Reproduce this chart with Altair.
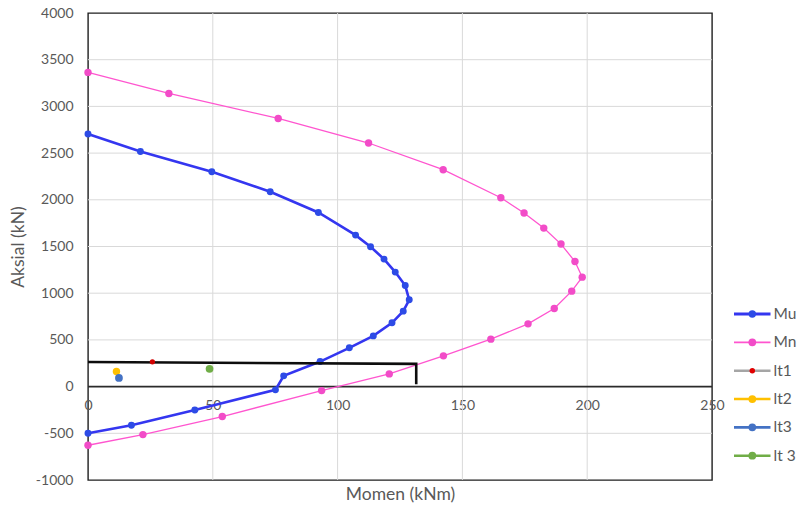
import altair as alt
import pandas as pd

# Interaction diagram: ultimate (Mu) and nominal (Mn) capacity curves
mu_moment = [0, 21.0, 49.6, 73.0, 92.3, 107.2, 113.2, 118.6, 123.1, 127.1, 128.7,
             126.3, 121.8, 114.3, 104.7, 93.0, 78.4, 75.1, 42.8, 17.4, 0]
mu_axial = [2704, 2518, 2300, 2086, 1864, 1622, 1497, 1365, 1226, 1082, 929,
            808, 683, 543, 415, 268, 115, -35, -250, -414, -500]

mn_moment = [0, 32.4, 76.2, 112.4, 142.3, 165.4, 174.7, 182.6, 189.5, 195.1, 198.0,
             193.8, 186.8, 176.3, 161.4, 142.4, 120.7, 93.6, 53.8, 22.0, 0]
mn_axial = [3364, 3139, 2871, 2608, 2322, 2022, 1858, 1697, 1526, 1339, 1172,
            1022, 836, 672, 508, 329, 136, -43, -321, -514, -628]

# Load checks
check_names = ["lt1", "lt2", "lt3", "lt 3"]
check_moment = [25.8, 11.4, 12.4, 48.7]
check_axial = [265, 161, 93, 190]

# Limit path (horizontal then vertical drop)
limit_moment = [0, 131.5, 131.5]
limit_axial = [264, 243, 25]

x_ticks = [0, 50, 100, 150, 200, 250]
y_ticks = [-1000, -500, 0, 500, 1000, 1500, 2000, 2500, 3000, 3500, 4000]

legend_names = ["Mu", "Mn", "lt1", "lt2", "lt3", "lt 3"]

# Styling
W, H = 624, 467
X_DOM = [0, 250]
Y_DOM = [-1000, 4000]
FONT = "Lato"
TEXT_GRAY = "#595959"
MU_COLOR = "#3436f0"
MU_DOT = "#2d4be6"
MN_COLOR = "#ff55cf"
MN_DOT = "#f24cc8"
check_colors = ["#d00000", "#ffc000", "#4472c4", "#70ad47"]
check_sizes = [28, 55, 60, 60]
legend_line_colors = [MU_COLOR, MN_COLOR, "#a5a5a5", "#ffc000", "#4472c4", "#70ad47"]
legend_dot_colors = [MU_DOT, MN_DOT, "#e00000", "#ffc000", "#4472c4", "#70ad47"]
legend_dot_sizes = [55, 60, 30, 60, 60, 60]
legend_line_widths = [2.8, 1.6, 2.6, 2.6, 2.6, 2.6]

xs = alt.Scale(domain=X_DOM, nice=False, zero=False)
ys = alt.Scale(domain=Y_DOM, nice=False, zero=False)

zero_offset = -H * (0 - Y_DOM[0]) / (Y_DOM[1] - Y_DOM[0])

x_axis = alt.Axis(
    values=x_ticks, grid=False, ticks=False, domain=False,
    offset=zero_offset, labelPadding=12, labelFont=FONT, labelFontSize=14,
    labelColor=TEXT_GRAY, labelFlush=False, labelExpr="'' + datum.value",
    title="Momen (kNm)", titleFont=FONT, titleFontSize=17.5,
    titleFontWeight="normal", titleColor=TEXT_GRAY,
    titleY=112.5, titleBaseline="alphabetic", titleAlign="center")
y_axis = alt.Axis(
    values=y_ticks, grid=False, ticks=False, domain=False,
    labelPadding=15, labelFont=FONT, labelFontSize=14, labelColor=TEXT_GRAY,
    labelFlush=False, labelExpr="'' + datum.value",
    title="Aksial (kN)", titleFont=FONT, titleFontSize=17.5,
    titleFontWeight="normal", titleColor=TEXT_GRAY,
    titleX=-61, titleY=H / 2, titleAlign="center", titleBaseline="bottom",
    titleAngle=270)

x_enc = alt.X("momen:Q", scale=xs, axis=x_axis)
y_enc = alt.Y("aksial:Q", scale=ys, axis=y_axis)

mu_df = pd.DataFrame({"momen": mu_moment, "aksial": mu_axial, "i": range(len(mu_moment))})
mn_df = pd.DataFrame({"momen": mn_moment, "aksial": mn_axial, "i": range(len(mn_moment))})
chk_df = pd.DataFrame({"name": check_names, "momen": check_moment, "aksial": check_axial,
                       "c": check_colors, "s": check_sizes})
lim_df = pd.DataFrame({"momen": limit_moment, "aksial": limit_axial, "i": range(len(limit_moment))})

# interior gridlines only, so the frame stays dark
inner_x = [v for v in x_ticks if X_DOM[0] < v < X_DOM[1]]
inner_y = [v for v in y_ticks if Y_DOM[0] < v < Y_DOM[1] and v != 0]

grid_x = alt.Chart(pd.DataFrame({"momen": inner_x})).mark_rule(
    color="#d9d9d9", strokeWidth=1).encode(x=x_enc)
grid_y = alt.Chart(pd.DataFrame({"aksial": inner_y})).mark_rule(
    color="#d9d9d9", strokeWidth=1).encode(y=y_enc)

zero_line = alt.Chart(pd.DataFrame({"aksial": [0]})).mark_rule(
    color="#2b2b2b", strokeWidth=1.6).encode(y=y_enc)

mu_line = alt.Chart(mu_df).mark_line(color=MU_COLOR, strokeWidth=2.6).encode(
    x=x_enc, y=y_enc, order="i:Q")
mu_pts = alt.Chart(mu_df).mark_circle(color=MU_DOT, size=48, opacity=1).encode(
    x=x_enc, y=y_enc)

mn_line = alt.Chart(mn_df).mark_line(color=MN_COLOR, strokeWidth=1.3).encode(
    x=x_enc, y=y_enc, order="i:Q")
mn_pts = alt.Chart(mn_df).mark_circle(color=MN_DOT, size=55, opacity=1).encode(
    x=x_enc, y=y_enc)

lim_line = alt.Chart(lim_df).mark_line(color="#0d0d0d", strokeWidth=2.6).encode(
    x=x_enc, y=y_enc, order="i:Q")

chk_pts = alt.Chart(chk_df).mark_circle(opacity=1).encode(
    x=x_enc, y=y_enc,
    color=alt.Color("c:N", scale=None),
    size=alt.Size("s:Q", scale=None))

main = alt.layer(grid_x, grid_y, zero_line, mu_line, mu_pts, mn_line, mn_pts,
                 lim_line, chk_pts)

# Legend drawn from its own row scale to the right of the plot
leg_df = pd.DataFrame({"name": legend_names, "idx": range(len(legend_names)),
                       "line": legend_line_colors, "dot": legend_dot_colors,
                       "s": legend_dot_sizes, "lw": legend_line_widths})
ly = alt.Y("idx:Q", scale=alt.Scale(domain=[0, len(legend_names) - 1], range=[301, 442.7]),
           axis=None)

leg_rule = alt.Chart(leg_df).mark_rule().encode(
    x=alt.value(646), x2=alt.value(682.5), y=ly,
    color=alt.Color("line:N", scale=None),
    strokeWidth=alt.StrokeWidth("lw:Q", scale=None))
leg_dot = alt.Chart(leg_df).mark_circle(opacity=1).encode(
    x=alt.value(664.3), y=ly,
    color=alt.Color("dot:N", scale=None),
    size=alt.Size("s:Q", scale=None))
leg_text = alt.Chart(leg_df).mark_text(
    align="left", baseline="middle", font=FONT, fontSize=15.5, color=TEXT_GRAY
).encode(x=alt.value(685.5), y=ly, text="name:N")

legend = alt.layer(leg_rule, leg_dot, leg_text)

chart = alt.layer(main, legend).resolve_scale(y="independent").properties(
    width=W, height=H,
    autosize=alt.AutoSizeParams(type="none"),
    padding={"left": 88, "top": 13, "right": 91, "bottom": 32},
    background="white",
).configure_view(stroke="#1f1f1f", strokeWidth=1.4)

chart.save("out.html", embed_options={"renderer": "svg", "actions": False})
